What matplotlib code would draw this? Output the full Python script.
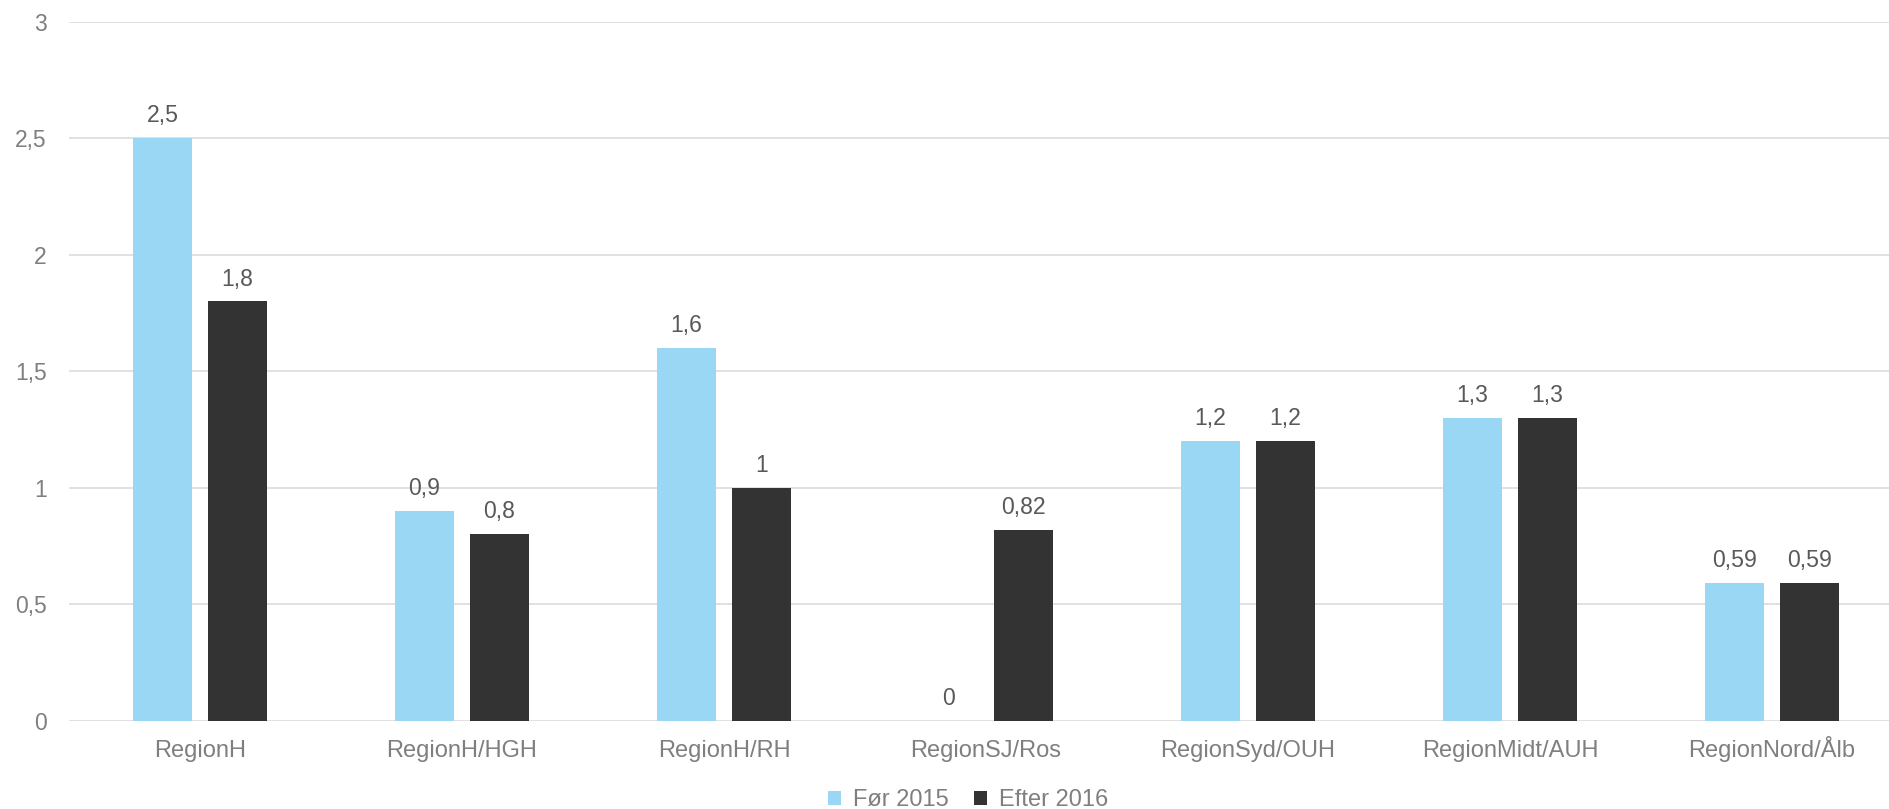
import matplotlib
matplotlib.use("Agg")
import matplotlib.pyplot as plt
import numpy as np
from matplotlib.patches import Patch

categories = ["RegionH", "RegionH/HGH", "RegionH/RH", "RegionSJ/Ros",
              "RegionSyd/OUH", "RegionMidt/AUH", "RegionNord/Ålb"]
series_names = ["Før 2015", "Efter 2016"]
foer_2015 = [2.5, 0.9, 1.6, 0, 1.2, 1.3, 0.59]
efter_2016 = [1.8, 0.8, 1.0, 0.82, 1.2, 1.3, 0.59]
yticks = [0, 0.5, 1, 1.5, 2, 2.5, 3]

colors = ["#9AD7F5", "#333333"]

plt.rcParams['font.family'] = ['Liberation Sans', 'DejaVu Sans']

def fmt(v):
    return ("%g" % v).replace(".", ",")

fig = plt.figure(figsize=(18.9, 8.09), dpi=100)
ax = fig.add_axes([69/1890, 1-720.7/809, (1903-69)/1890, (720.7-22)/809])

x = np.arange(len(categories))
w = 0.225
off = (0.225 + 0.061) / 2
for vals, c, o in [(foer_2015, colors[0], -off), (efter_2016, colors[1], off)]:
    ax.bar(x + o, vals, width=w, color=c, zorder=3)
    for xi, v in zip(x + o, vals):
        ax.annotate(fmt(v), (xi, v), xytext=(0, 11.5), textcoords="offset points",
                    ha="center", va="baseline", fontsize=16.6, color="#595959")

ax.set_xlim(-0.5, len(categories) - 0.5)
ax.set_ylim(0, 3)
ax.set_yticks(yticks)
ax.set_yticklabels([fmt(t) for t in yticks])
ax.set_xticks(x)
ax.set_xticklabels(categories)
ax.tick_params(axis="both", length=0, colors="#7F7F7F")
ax.tick_params(axis="y", pad=16, labelsize=16.5)
ax.tick_params(axis="x", pad=26, labelsize=17)
for lbl in ax.get_xticklabels():
    lbl.set_verticalalignment("baseline")
for s in ax.spines.values():
    s.set_visible(False)
ax.yaxis.grid(True, color="#D9D9D9", linewidth=1.1, zorder=0)
ax.set_axisbelow(True)

handles = [Patch(facecolor=colors[0]), Patch(facecolor=colors[1])]
fig.legend(handles, series_names, loc="center", bbox_to_anchor=(968/1890, 1-800/809),
           ncol=2, frameon=False, fontsize=17, handlelength=0.55, handleheight=0.55,
           handletextpad=0.5, columnspacing=1.1, labelcolor="#7F7F7F",
           borderpad=0, borderaxespad=0)

fig.savefig("out.png", dpi=100)
